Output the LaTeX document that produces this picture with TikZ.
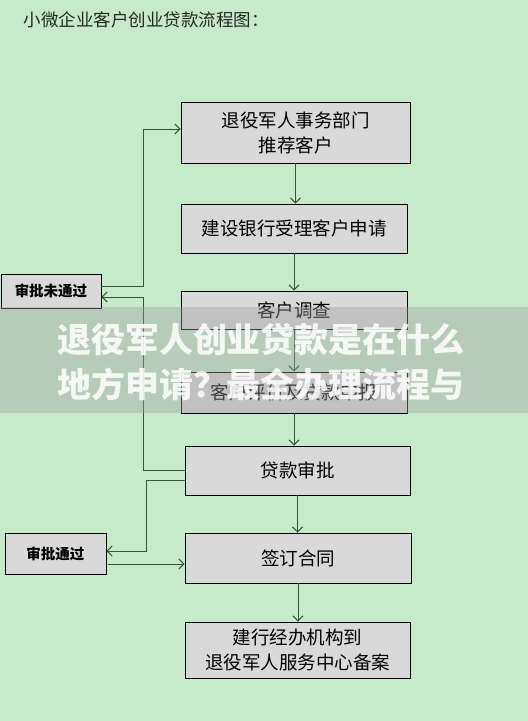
\documentclass[tikz,border=0pt]{standalone}
\usepackage{fontspec}
\usepackage{xcolor}
\usepackage{tikz}
\usetikzlibrary{calc,positioning,arrows.meta}
\setmainfont{Noto Sans CJK SC}
\definecolor{bggreen}{HTML}{C7EBCA}
\definecolor{boxgray}{HTML}{D9D9D9}
\definecolor{linegreen}{HTML}{35553A}

\begin{document}
\begin{tikzpicture}[x=1pt,y=-1pt,->,>={Straight Barb[length=5pt,width=10pt]},line width=1pt]
	\fill[bggreen,-] (0,0) rectangle (528,721);
	\useasboundingbox (0,0) rectangle (528,721);

	\tikzstyle{mybox} = [draw=black, fill=boxgray, rectangle, line width=0.9pt, inner sep=0pt, align=center, font=\fontsize{18.5}{25}\selectfont]
	\tikzstyle{sidebox} = [mybox, font=\fontsize{14.5}{17}\selectfont\bfseries]
	\tikzstyle{link} = [color=linegreen]

	\node[anchor=west,font=\fontsize{17.5}{20}\selectfont,text=black!85] (title) at (20,20) {小微企业客户创业贷款流程图：};

	\node[mybox,minimum width=229,minimum height=61] (A) at (295.5,132.5) {退役军人事务部门\\推荐客户};
	\node[mybox,minimum width=226,minimum height=49] (B) at (294,228.5) {建设银行受理客户申请};
	\node[mybox,minimum width=226,minimum height=38] (C) at (294,310) {客户调查};
	\node[mybox,minimum width=226,minimum height=41] (D) at (294,392.5) {客户评价及贷款申报};
	\node[mybox,minimum width=225,minimum height=49] (E) at (297.5,470.5) {贷款审批};
	\node[mybox,minimum width=226,minimum height=50] (F) at (298,558) {签订合同};
	\node[mybox,minimum width=225,minimum height=56] (G) at (297.5,650) {建行经办机构到\\退役军人服务中心备案};

	\node[sidebox,minimum width=100,minimum height=34] (noPass) at (51,291) {审批未通过};
	\node[sidebox,minimum width=101,minimum height=41] (pass) at (55.5,553.5) {审批通过};

	% corners of the side loops
	\coordinate (upA) at (143,129);
	\coordinate (upB) at (143,286);
	\coordinate (upC) at (143,297);
	\coordinate (dnA) at (146,480);
	\coordinate (dnB) at (146,551);
	\coordinate (dnC) at (0,564);

	\path[link] (A.south) edge (A.south |- B.north)
		  (B.south) edge (B.south |- C.north)
		  (C.south) edge (C.south |- D.north)
		  (D.south) edge (D.south |- E.north)
		  (E.south) edge (E.south |- F.north)
		  (F.south) edge (F.south |- G.north);

	\draw[link] (E.west) -| (upC) -- (upC -| noPass.east);
	\draw[link] (upB -| noPass.east) -- (upB) -- (upA) -- (upA -| A.west);
	\draw[link] (dnA -| E.west) -- (dnA) -- (dnB) -- (dnB -| pass.east);
	\draw[link,shorten <=2pt] (dnC -| pass.east) -- (dnC -| F.west);

	\fill[gray!75!white,opacity=0.4,-] (0,307) rectangle (528,413);
	\node[text=white,text opacity=0.85,align=center,font=\fontsize{34}{45}\selectfont\bfseries] (mark) at (261,362.5) {退役军人创业贷款是在什么\\地方申请？最全办理流程与};
\end{tikzpicture}
\end{document}
